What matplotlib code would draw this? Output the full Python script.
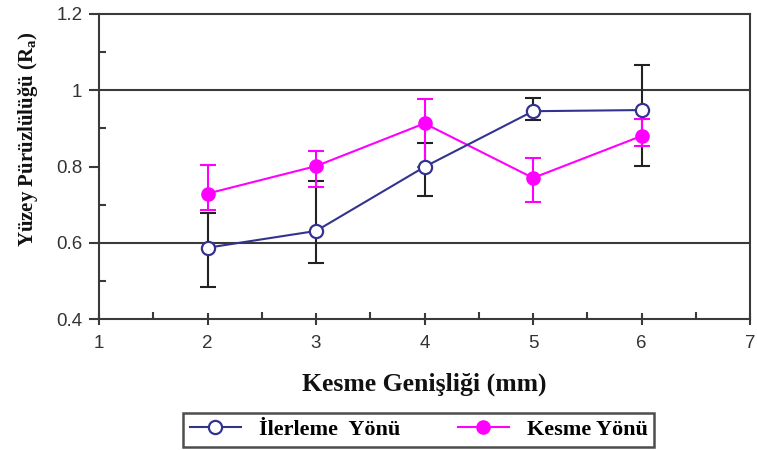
import matplotlib
matplotlib.use("Agg")
import matplotlib.pyplot as plt
from matplotlib.ticker import MultipleLocator
import numpy as np

x = [2, 3, 4, 5, 6]
ilerleme = [0.587, 0.631, 0.799, 0.945, 0.948]
ilerleme_up = [0.679, 0.761, 0.862, 0.979, 1.066]
ilerleme_lo = [0.484, 0.546, 0.723, 0.922, 0.802]
kesme = [0.729, 0.801, 0.913, 0.770, 0.880]
kesme_up = [0.804, 0.841, 0.978, 0.823, 0.924]
kesme_lo = [0.686, 0.747, 0.800, 0.707, 0.855]
xticks = [1, 2, 3, 4, 5, 6, 7]
yticks = [0.4, 0.6, 0.8, 1.0, 1.2]
ytick_labels = ["0.4", "0.6", "0.8", "1", "1.2"]

blue = "#33338f"
mag = "#ff00ff"
dark = "#3a3a3a"

fig = plt.figure(figsize=(7.57, 4.5), dpi=100)
ax = fig.add_axes([0.1308, 0.291, 0.86, 0.678])

ax.set_xlim(1, 7)
ax.set_ylim(0.4, 1.2)
for g in [0.6, 1.0]:
    ax.axhline(g, color=dark, lw=1.5, zorder=1)

il = np.array(ilerleme)
ke = np.array(kesme)
ax.errorbar(x, il, yerr=[il - np.array(ilerleme_lo), np.array(ilerleme_up) - il],
            fmt="none", ecolor="#222222", elinewidth=1.5, capsize=5.5, capthick=1.5, zorder=2)
ax.errorbar(x, ke, yerr=[ke - np.array(kesme_lo), np.array(kesme_up) - ke],
            fmt="none", ecolor=mag, elinewidth=1.5, capsize=5.5, capthick=1.5, zorder=2)
l1, = ax.plot(x, il, color=blue, lw=1.5, marker="o", ms=9.5, mfc="white", mec=blue, mew=1.6,
              zorder=4, label="İlerleme  Yönü")
l2, = ax.plot(x, ke, color=mag, lw=1.5, marker="o", ms=9.5, mfc=mag, mec=mag,
              zorder=3, label="Kesme Yönü")

for s in ax.spines.values():
    s.set_color(dark)
    s.set_linewidth(1.5)

ax.set_xticks(xticks)
ax.set_xticklabels([str(v) for v in xticks], family="Liberation Sans")
ax.xaxis.set_minor_locator(MultipleLocator(0.5))
ax.set_yticks(yticks)
ax.set_yticklabels(ytick_labels, family="Liberation Sans")
ax.yaxis.set_minor_locator(MultipleLocator(0.1))
ax.tick_params(axis="x", which="major", direction="inout", length=9, width=1.5, color=dark,
               labelsize=13.5, labelcolor="#333333", pad=7)
ax.tick_params(axis="x", which="minor", direction="in", length=5, width=1.5, color=dark)
ax.tick_params(axis="y", which="major", direction="out", length=7, width=1.5, color=dark,
               labelsize=13.5, labelcolor="#333333", pad=5)
ax.tick_params(axis="y", which="minor", direction="in", length=5, width=1.5, color=dark)

ax.set_xlabel("Kesme Genişliği (mm)", family="Liberation Serif", fontweight="bold",
              fontsize=18.5, labelpad=15, color="#111111")
ax.set_ylabel("Yüzey Pürüzlülüğü (R$_\\mathregular{a}$)", family="Liberation Serif",
              fontweight="bold", fontsize=15, labelpad=10, color="#111111")
ax.yaxis.set_label_coords(-0.09, 0.59)

leg = fig.legend(handles=[l1, l2], loc="center", bbox_to_anchor=(0.553, 0.0445), ncol=2,
                 frameon=True, fancybox=False, edgecolor="#222222",
                 prop={"family": "Liberation Serif", "weight": "bold", "size": 16},
                 handlelength=2.3, columnspacing=2.6, borderpad=0.3, handletextpad=0.8)
leg.get_frame().set_linewidth(1.8)

fig.savefig("out.png", dpi=100)
